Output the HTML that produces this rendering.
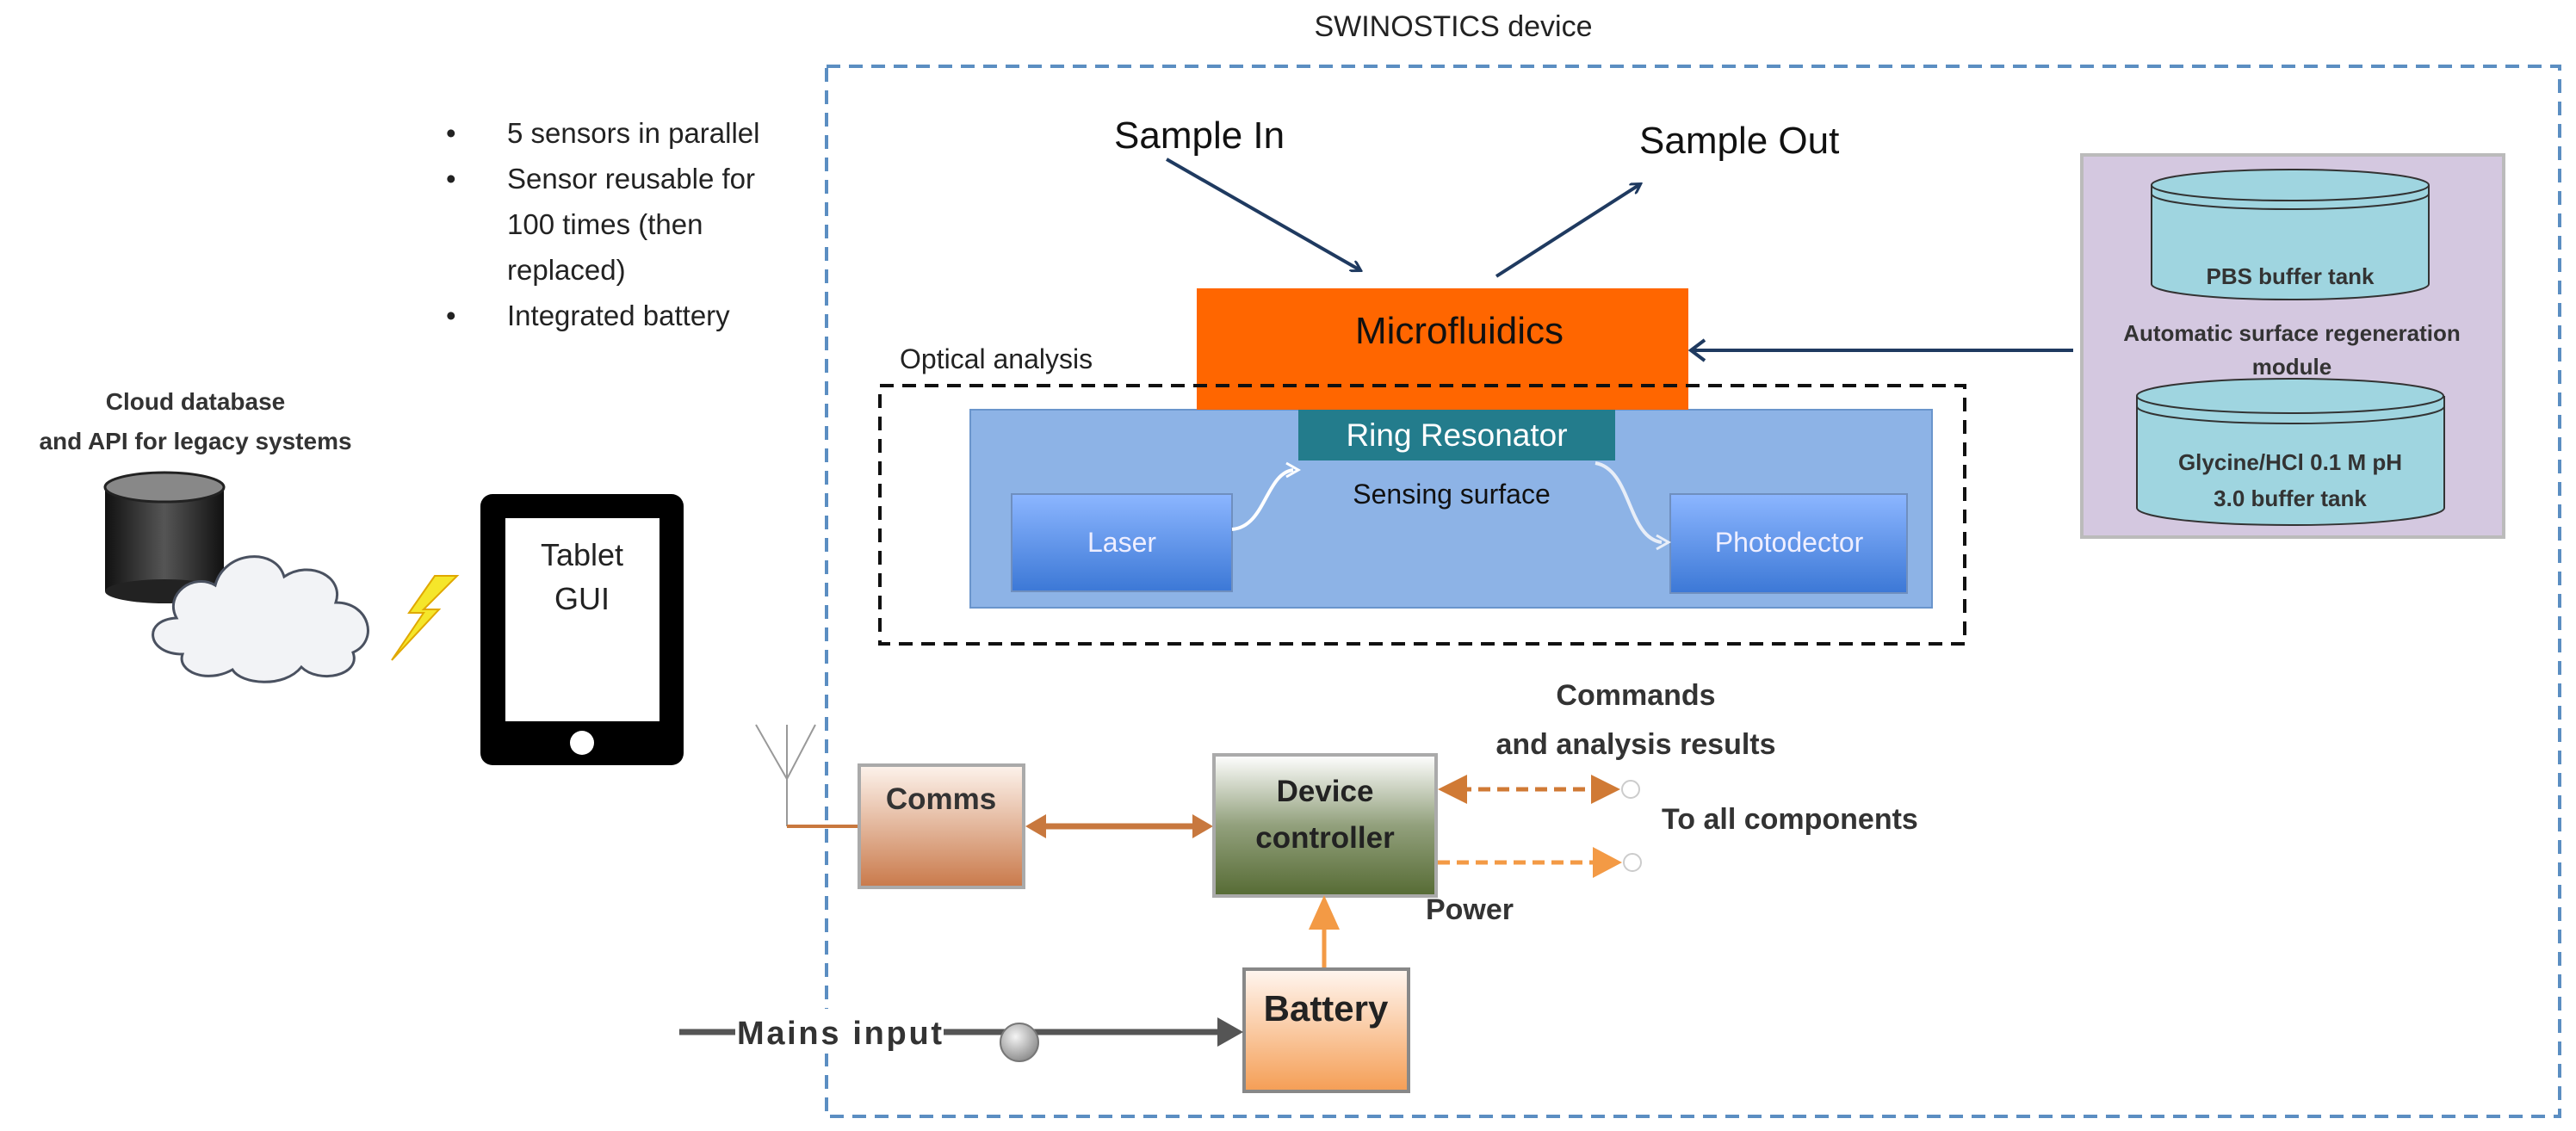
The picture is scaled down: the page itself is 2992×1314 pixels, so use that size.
<!DOCTYPE html>
<html><head><meta charset="utf-8"><style>
html,body{margin:0;padding:0;background:#fff;}
svg{display:block;}
text{font-family:"Liberation Sans",sans-serif;}
</style></head><body>
<svg width="2992" height="1314" viewBox="0 0 2992 1314" xmlns="http://www.w3.org/2000/svg">
<defs>
<linearGradient id="comms" x1="0" y1="0" x2="0" y2="1"><stop offset="0" stop-color="#fdf3ec"/><stop offset="1" stop-color="#c9794a"/></linearGradient>
<linearGradient id="ctrl" x1="0" y1="0" x2="0" y2="1"><stop offset="0" stop-color="#ffffff"/><stop offset="0.5" stop-color="#92a07c"/><stop offset="1" stop-color="#566b34"/></linearGradient>
<linearGradient id="batt" x1="0" y1="0" x2="0" y2="1"><stop offset="0" stop-color="#fff6f0"/><stop offset="1" stop-color="#f59e55"/></linearGradient>
<linearGradient id="bluebox" x1="0" y1="0" x2="0" y2="1"><stop offset="0" stop-color="#8cb6ff"/><stop offset="1" stop-color="#3c78d6"/></linearGradient>
<linearGradient id="cyl" x1="0" y1="0" x2="1" y2="0"><stop offset="0" stop-color="#111"/><stop offset="0.5" stop-color="#555"/><stop offset="1" stop-color="#111"/></linearGradient>
<radialGradient id="knob" cx="0.4" cy="0.35" r="0.7"><stop offset="0" stop-color="#f4f4f4"/><stop offset="1" stop-color="#888"/></radialGradient>
<marker id="ab" markerWidth="14" markerHeight="14" refX="11" refY="7" orient="auto" markerUnits="userSpaceOnUse"><path d="M0,0 L12,7 L0,14" fill="none" stroke="#1f3a60" stroke-width="3"/></marker>
</defs>

<text x="1688" y="42" font-size="34" text-anchor="middle" fill="#222">SWINOSTICS device</text>
<rect x="960" y="77" width="2013" height="1220" fill="none" stroke="#5b8ec2" stroke-width="4" stroke-dasharray="16,10"/>

<g font-size="33" fill="#222">
<text x="518" y="166">•</text><text x="589" y="166">5 sensors in parallel</text>
<text x="518" y="219">•</text><text x="589" y="219">Sensor reusable for</text>
<text x="589" y="272">100 times (then</text>
<text x="589" y="325">replaced)</text>
<text x="518" y="378">•</text><text x="589" y="378">Integrated battery</text>
</g>

<text x="227" y="476" font-size="28" font-weight="bold" text-anchor="middle" fill="#333">Cloud database</text>
<text x="227" y="522" font-size="28" font-weight="bold" text-anchor="middle" fill="#333">and API for legacy systems</text>
<rect x="122" y="566" width="138" height="121" fill="url(#cyl)"/>
<ellipse cx="191" cy="687" rx="69" ry="14" fill="#222"/>
<ellipse cx="191" cy="566" rx="69" ry="17" fill="#888" stroke="#222" stroke-width="3"/>
<path d="M205,718 C190,690 225,665 250,680 C260,640 320,635 330,670 C360,650 400,670 390,700 C430,700 440,745 410,758 C420,785 370,795 350,775 C330,800 280,795 270,778 C240,795 205,780 212,760 C170,760 165,720 205,718 Z" fill="#f2f3f6" stroke="#4a5160" stroke-width="3"/>
<path d="M505,669 L475,712 L492,712 L455,767 L510,708 L492,708 L531,669 Z" fill="#f5e62a" stroke="#e0a800" stroke-width="2"/>

<rect x="558" y="574" width="236" height="315" rx="14" fill="#000"/>
<rect x="587" y="602" width="179" height="236" fill="#fff"/>
<circle cx="676" cy="863" r="14" fill="#fff"/>
<text x="676" y="657" font-size="36" text-anchor="middle" fill="#222">Tablet</text>
<text x="676" y="708" font-size="36" text-anchor="middle" fill="#222">GUI</text>

<g stroke="#999" stroke-width="2" fill="none"><path d="M878,842 L914,905 L947,842 M914,842 L914,960"/></g>
<line x1="914" y1="960" x2="998" y2="960" stroke="#c8783e" stroke-width="4"/>

<text x="1294" y="172" font-size="44" fill="#111">Sample In</text>
<line x1="1355" y1="185" x2="1580" y2="314" stroke="#1f3a60" stroke-width="4" marker-end="url(#ab)"/>
<text x="1904" y="178" font-size="44" fill="#111">Sample Out</text>
<line x1="1738" y1="321" x2="1905" y2="214" stroke="#1f3a60" stroke-width="4" marker-end="url(#ab)"/>

<text x="1045" y="428" font-size="32" fill="#222">Optical analysis</text>
<rect x="1127" y="476" width="1117" height="230" fill="#8db3e6" stroke="#6a95cc" stroke-width="2"/>
<rect x="1390" y="335" width="571" height="141" fill="#ff6600"/>
<text x="1695" y="399" font-size="44" text-anchor="middle" fill="#111">Microfluidics</text>
<rect x="1022" y="448" width="1260" height="300" fill="none" stroke="#111" stroke-width="4" stroke-dasharray="16,10"/>
<rect x="1508" y="476" width="368" height="59" fill="#237c8c"/>
<text x="1692" y="518" font-size="37" text-anchor="middle" fill="#fff">Ring Resonator</text>
<text x="1686" y="585" font-size="32" text-anchor="middle" fill="#111">Sensing surface</text>
<rect x="1175" y="574" width="256" height="113" fill="url(#bluebox)" stroke="#6f8fbf" stroke-width="2"/>
<text x="1303" y="641" font-size="32" text-anchor="middle" fill="#eef">Laser</text>
<rect x="1940" y="574" width="275" height="115" fill="url(#bluebox)" stroke="#6f8fbf" stroke-width="2"/>
<text x="2078" y="641" font-size="32" text-anchor="middle" fill="#eef">Photodector</text>
<path d="M1431,615 C1470,612 1470,550 1502,546" fill="none" stroke="#fff" stroke-width="4"/>
<path d="M1494,538 L1508,546 L1494,554" fill="none" stroke="#fff" stroke-width="3"/>
<path d="M1853,538 C1895,545 1890,625 1930,630" fill="none" stroke="#e8eef8" stroke-width="4"/>
<path d="M1924,622 L1938,630 L1924,638" fill="none" stroke="#e8eef8" stroke-width="3"/>

<rect x="2418" y="180" width="490" height="444" fill="#d4c8e0" stroke="#bbb" stroke-width="4"/>
<path d="M2499,215 L2499,330 A161,18 0 0 0 2821,330 L2821,215" fill="#9fd5e0" stroke="#333" stroke-width="2"/>
<ellipse cx="2660" cy="215" rx="161" ry="18" fill="#9fd5e0" stroke="#333" stroke-width="2"/>
<path d="M2499,225 A161,18 0 0 0 2821,225" fill="none" stroke="#333" stroke-width="2"/>
<text x="2660" y="330" font-size="26" font-weight="bold" text-anchor="middle" fill="#333">PBS buffer tank</text>
<text x="2662" y="396" font-size="26" font-weight="bold" text-anchor="middle" fill="#333">Automatic surface regeneration</text>
<text x="2662" y="435" font-size="26" font-weight="bold" text-anchor="middle" fill="#333">module</text>
<path d="M2482,460 L2482,590 A178,20 0 0 0 2839,590 L2839,460" fill="#9fd5e0" stroke="#333" stroke-width="2"/>
<ellipse cx="2660" cy="460" rx="178" ry="20" fill="#9fd5e0" stroke="#333" stroke-width="2"/>
<path d="M2482,472 A178,20 0 0 0 2839,472" fill="none" stroke="#333" stroke-width="2"/>
<text x="2660" y="546" font-size="26" font-weight="bold" text-anchor="middle" fill="#333">Glycine/HCl 0.1 M pH</text>
<text x="2660" y="588" font-size="26" font-weight="bold" text-anchor="middle" fill="#333">3.0 buffer tank</text>
<line x1="2408" y1="407" x2="1965" y2="407" stroke="#1f3a60" stroke-width="4"/>
<path d="M1980,395 L1964,407 L1980,419" fill="none" stroke="#1f3a60" stroke-width="4"/>

<rect x="998" y="889" width="191" height="142" fill="url(#comms)" stroke="#aaa" stroke-width="4"/>
<text x="1093" y="940" font-size="35" font-weight="bold" text-anchor="middle" fill="#333">Comms</text>
<line x1="1205" y1="960" x2="1395" y2="960" stroke="#c8783e" stroke-width="7"/>
<path d="M1191,960 L1215,946 L1215,974 Z M1409,960 L1385,946 L1385,974 Z" fill="#c8783e"/>
<rect x="1410" y="877" width="258" height="164" fill="url(#ctrl)" stroke="#aaa" stroke-width="4"/>
<text x="1539" y="931" font-size="35" font-weight="bold" text-anchor="middle" fill="#222">Device</text>
<text x="1539" y="985" font-size="35" font-weight="bold" text-anchor="middle" fill="#222">controller</text>

<text x="1900" y="819" font-size="34" font-weight="bold" text-anchor="middle" fill="#333">Commands</text>
<text x="1900" y="876" font-size="34" font-weight="bold" text-anchor="middle" fill="#333">and analysis results</text>
<line x1="1695" y1="917" x2="1850" y2="917" stroke="#d07a35" stroke-width="5" stroke-dasharray="14,8"/>
<path d="M1670,917 L1704,900 L1704,934 Z M1882,917 L1848,900 L1848,934 Z" fill="#d07a35"/>
<circle cx="1894" cy="917" r="10" fill="#fff" stroke="#ccc" stroke-width="2"/>
<text x="1930" y="963" font-size="34" font-weight="bold" fill="#333">To all components</text>
<line x1="1670" y1="1002" x2="1850" y2="1002" stroke="#f39a45" stroke-width="5" stroke-dasharray="14,8"/>
<path d="M1884,1002 L1850,984 L1850,1020 Z" fill="#f39a45"/>
<circle cx="1896" cy="1002" r="10" fill="#fff" stroke="#ccc" stroke-width="2"/>
<text x="1707" y="1068" font-size="34" font-weight="bold" text-anchor="middle" fill="#333">Power</text>

<line x1="1538" y1="1127" x2="1538" y2="1070" stroke="#f39a45" stroke-width="5"/>
<path d="M1538,1040 L1520,1080 L1556,1080 Z" fill="#f39a45"/>
<rect x="1445" y="1126" width="191" height="142" fill="url(#batt)" stroke="#888" stroke-width="4"/>
<text x="1540" y="1186" font-size="42" font-weight="bold" text-anchor="middle" fill="#222">Battery</text>

<line x1="789" y1="1199" x2="1420" y2="1199" stroke="#555" stroke-width="7"/>
<path d="M1444,1199 L1414,1182 L1414,1216 Z" fill="#555"/>
<rect x="854" y="1172" width="242" height="52" fill="#fff"/>
<text x="856" y="1213" font-size="38" font-weight="bold" fill="#333" textLength="238">Mains input</text>
<circle cx="1184" cy="1211" r="22" fill="url(#knob)" stroke="#777" stroke-width="2"/>
</svg>
</body></html>
